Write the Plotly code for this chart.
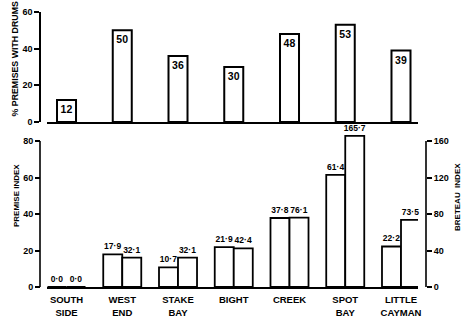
import plotly.graph_objects as go

categories = ["SOUTH<br>SIDE", "WEST<br>END", "STAKE<br>BAY", "BIGHT", "CREEK", "SPOT<br>BAY", "LITTLE<br>CAYMAN"]
pct_drums = [12, 50, 36, 30, 48, 53, 39]
premise_index = [0.0, 17.9, 10.7, 21.9, 37.8, 61.4, 22.2]
breteau_index = [0.0, 32.1, 32.1, 42.4, 76.1, 165.7, 73.5]

W, H = 466, 335
SANS = "Liberation Sans"
BW = 0.341


def fmt(v):
    return f"{v:.1f}".replace(".", "·")


fig = go.Figure()

fig.add_trace(go.Bar(
    x=categories, y=pct_drums, xaxis="x", yaxis="y",
    width=BW, marker=dict(color="white", line=dict(color="black", width=2)),
    text=[str(v) for v in pct_drums], textposition="inside", insidetextanchor="end",
    constraintext="none", textfont=dict(color="black", size=10.5, family=SANS, weight="bold"),
    showlegend=False,
))

fig.add_trace(go.Bar(
    x=categories, y=premise_index, xaxis="x2", yaxis="y2",
    width=BW, offset=-BW, marker=dict(color="white", line=dict(color="black", width=1.8)),
    text=[fmt(v) for v in premise_index], textposition="outside",
    constraintext="none", textfont=dict(color="black", size=8.5, family=SANS, weight="bold"),
    cliponaxis=False, showlegend=False,
))

fig.add_trace(go.Bar(
    x=categories, y=breteau_index, xaxis="x2", yaxis="y3",
    width=BW, offset=0, marker=dict(color="white", line=dict(color="black", width=1.8)),
    text=[fmt(v) for v in breteau_index], textposition="outside",
    constraintext="none", textfont=dict(color="black", size=8.5, family=SANS, weight="bold"),
    cliponaxis=False, showlegend=False,
))

xdom = [47 / W, 418 / W]
xrng = [-0.35, 6.305]
tickfont = dict(size=9, family=SANS, color="black", weight="bold")
common = dict(showgrid=False, zeroline=False, automargin=False, linecolor="black", linewidth=1.6)
yticks = dict(ticks="outside", ticklen=5, tickwidth=1.5, tickcolor="black", tickfont=tickfont)

# bottom panel: 0 at px 287, 1.825 px per premise unit; range extended to 90 so tall bars are not clipped
bot_lo = 1 - 287 / H
bot_hi = 1 - (287 - 90 * 1.825) / H

fig.update_layout(
    width=W, height=H,
    margin=dict(l=0, r=0, t=0, b=0),
    paper_bgcolor="white", plot_bgcolor="rgba(0,0,0,0)",
    font=dict(family=SANS, color="black", size=10),
    barmode="overlay",
    xaxis=dict(domain=xdom, range=xrng, anchor="y", showticklabels=False, ticks="", showline=True,
               type="category", categoryorder="array", categoryarray=categories, **common),
    xaxis2=dict(domain=xdom, range=xrng, anchor="y2", ticks="", ticklabelstandoff=3, showline=True,
                tickfont=dict(size=9.5, family=SANS, color="black", weight="bold"),
                type="category", categoryorder="array", categoryarray=categories, **common),
    yaxis=dict(domain=[1 - 122 / H, 1 - 12 / H], range=[0, 60], anchor="free", position=40 / W,
               tickvals=[0, 20, 40, 60], showline=True, **yticks, **common),
    yaxis2=dict(domain=[bot_lo, bot_hi], range=[0, 90], anchor="free", position=40 / W,
                tickvals=[0, 20, 40, 60, 80], showline=False, **yticks, **common),
    yaxis3=dict(range=[0, 180], overlaying="y2", side="right", anchor="free", position=426 / W,
                tickvals=[0, 40, 80, 120, 160], showline=False, **yticks, **common),
    shapes=[
        dict(type="line", xref="paper", yref="y2", x0=40 / W, x1=40 / W, y0=0, y1=80,
             line=dict(color="black", width=1.6)),
        dict(type="line", xref="paper", yref="y3", x0=426 / W, x1=426 / W, y0=0, y1=160,
             line=dict(color="black", width=1.6)),
    ],
    annotations=[
        dict(text="% PREMISES WITH DRUMS", textangle=-90, x=14 / W, y=1 - 119 / H,
             xref="paper", yref="paper", xanchor="center", yanchor="bottom", showarrow=False,
             font=dict(size=8.8, family=SANS, weight="bold")),
        dict(text="PREMISE INDEX", textangle=-90, x=16 / W, y=1 - 196 / H,
             xref="paper", yref="paper", xanchor="center", yanchor="middle", showarrow=False,
             font=dict(size=8, family=SANS, weight="bold")),
        dict(text="BRETEAU  INDEX", textangle=-90, x=457 / W, y=1 - 197 / H,
             xref="paper", yref="paper", xanchor="center", yanchor="middle", showarrow=False,
             font=dict(size=8, family=SANS, weight="bold")),
    ],
)

fig.write_html("out.html")
